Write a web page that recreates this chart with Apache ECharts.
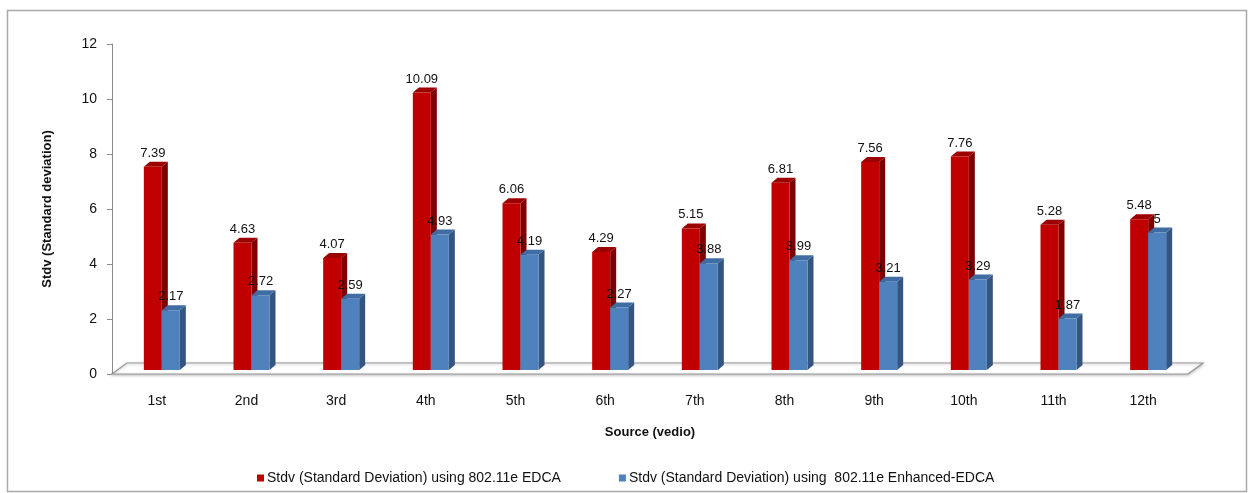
<!DOCTYPE html>
<html>
<head>
<meta charset="utf-8">
<script src="https://cdn.jsdelivr.net/npm/echarts@6/dist/echarts.min.js"></script>
<style>
  html, body { margin: 0; padding: 0; background: #fff; }
  #chart { width: 1248px; height: 493px; }
</style>
</head>
<body>
<div id="chart"></div>
<script>
// Video sources on the x axis
const categories = ['1st', '2nd', '3rd', '4th', '5th', '6th', '7th', '8th', '9th', '10th', '11th', '12th'];
// Standard deviation per source, plain EDCA
const edcaValues = [7.39, 4.63, 4.07, 10.09, 6.06, 4.29, 5.15, 6.81, 7.56, 7.76, 5.28, 5.48];
// Standard deviation per source, Enhanced-EDCA
const enhancedValues = [2.17, 2.72, 2.59, 4.93, 4.19, 2.27, 3.88, 3.99, 3.21, 3.29, 1.87, 5];
// Value axis ticks
const yTicks = [0, 2, 4, 6, 8, 10, 12];

const seriesNames = [
  'Stdv (Standard Deviation) using 802.11e EDCA',
  'Stdv (Standard Deviation) using  802.11e Enhanced-EDCA'
];

const FONT = '"Liberation Sans", Arial, sans-serif';
const GRID = { left: 112, right: 60, top: 44, bottom: 119 };
const W = 1248, H = 493;

// 3-D column geometry (pixels)
const BAR_W = 18;
const DEPTH_X = 6;
const DEPTH_Y = 5;
const LIFT = 4;          // columns stand a little behind the front edge of the floor
const FLOOR_DX = 15;
const FLOOR_DY = 11;

function makeColumn(offsetX, front, side, topC) {
  return function (params, api) {
    const idx = api.value(0);
    const v = api.value(1);
    const base = api.coord([idx, 0]);
    const peak = api.coord([idx, v]);
    const x0 = base[0] + offsetX;
    const yb = base[1] - LIFT;
    const yt = peak[1] - LIFT;
    const x1 = x0 + BAR_W;
    return {
      type: 'group',
      children: [
        {
          type: 'polygon',
          shape: { points: [[x1, yt], [x1 + DEPTH_X, yt - DEPTH_Y], [x1 + DEPTH_X, yb - DEPTH_Y], [x1, yb]] },
          style: { fill: side }
        },
        {
          type: 'polygon',
          shape: { points: [[x0, yt], [x0 + DEPTH_X, yt - DEPTH_Y], [x1 + DEPTH_X, yt - DEPTH_Y], [x1, yt]] },
          style: { fill: topC }
        },
        {
          type: 'rect',
          shape: { x: x0, y: yt, width: BAR_W, height: yb - yt },
          style: { fill: front }
        },
        {
          type: 'text',
          x: x0 + BAR_W / 2,
          y: yt - DEPTH_Y - 2,
          style: {
            text: String(v),
            fill: '#111',
            font: '13px ' + FONT,
            align: 'center',
            verticalAlign: 'bottom'
          }
        }
      ]
    };
  };
}

const chart = echarts.init(document.getElementById('chart'), null, { renderer: 'canvas' });

const x0 = GRID.left, x1 = W - GRID.right, yF = H - GRID.bottom;

chart.setOption({
  animation: false,
  backgroundColor: '#fff',
  grid: GRID,
  legend: {
    top: 466,
    left: 252,
    itemWidth: 7,
    itemHeight: 7,
    itemGap: 58,
    icon: 'rect',
    textStyle: { fontFamily: FONT, fontSize: 14, color: '#111', padding: [0, 0, 0, -2] },
    data: [
      { name: seriesNames[0], itemStyle: { color: '#C00000' } },
      { name: seriesNames[1], itemStyle: { color: '#4F81BD' } }
    ]
  },
  xAxis: {
    type: 'category',
    data: categories,
    boundaryGap: true,
    axisLine: { show: false },
    axisTick: { show: false },
    axisLabel: { margin: 20, fontFamily: FONT, fontSize: 14, color: '#111' },
    name: 'Source (vedio)',
    nameLocation: 'middle',
    nameGap: 52,
    nameTextStyle: { fontFamily: FONT, fontSize: 13, fontWeight: 'bold', color: '#111' }
  },
  yAxis: {
    type: 'value',
    min: yTicks[0],
    max: yTicks[yTicks.length - 1],
    interval: yTicks[1] - yTicks[0],
    axisLine: { show: true, lineStyle: { color: '#8c8c8c', width: 1 } },
    axisTick: { show: true, inside: false, length: 5, lineStyle: { color: '#8c8c8c' } },
    axisLabel: { margin: 15, fontFamily: FONT, fontSize: 14, color: '#111' },
    splitLine: { show: false },
    name: 'Stdv (Standard deviation)',
    nameLocation: 'middle',
    nameGap: 58,
    nameRotate: 90,
    nameTextStyle: { fontFamily: FONT, fontSize: 13, fontWeight: 'bold', color: '#111' }
  },
  graphic: [
    {
      type: 'rect',
      shape: { x: 7.5, y: 10.5, width: W - 9, height: H - 12 },
      style: { fill: 'none', stroke: '#a9a9a9', lineWidth: 1.5 },
      silent: true,
      z: -20
    },
    {
      // floor of the 3-D plot
      type: 'polygon',
      shape: {
        points: [[x0, yF], [x0 + FLOOR_DX, yF - FLOOR_DY], [x1 + FLOOR_DX, yF - FLOOR_DY], [x1, yF]]
      },
      style: { fill: '#ffffff', stroke: '#9a9a9a', lineWidth: 1.2, shadowColor: 'rgba(0,0,0,0.25)', shadowBlur: 3, shadowOffsetY: 1 },
      silent: true,
      z: -10
    }
  ],
  series: [
    {
      name: seriesNames[0],
      type: 'custom',
      renderItem: makeColumn(-13, '#C00000', '#7E0000', '#9C0000'),
      data: edcaValues.map((v, i) => [i, v]),
      encode: { x: 0, y: 1 },
      itemStyle: { color: '#C00000' },
      z: 2
    },
    {
      name: seriesNames[1],
      type: 'custom',
      renderItem: makeColumn(5, '#4F81BD', '#34557F', '#3F6CA3'),
      data: enhancedValues.map((v, i) => [i, v]),
      encode: { x: 0, y: 1 },
      itemStyle: { color: '#4F81BD' },
      z: 3
    }
  ]
});
</script>
</body>
</html>
